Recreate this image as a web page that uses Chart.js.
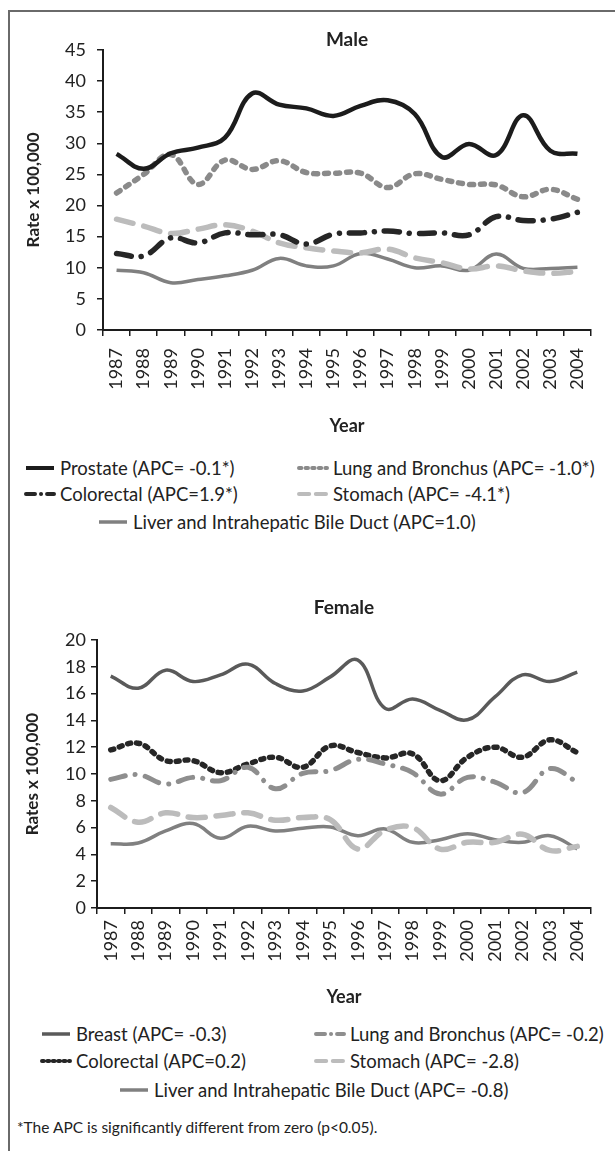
<!DOCTYPE html>
<html>
<head>
<meta charset="utf-8">
<script src="https://cdn.jsdelivr.net/npm/chart.js@4.4.1/dist/chart.umd.min.js"></script>
<style>
  body { margin: 0; background: #fff; font-family: Lato, sans-serif; color: #222; }
  #page { position: relative; width: 615px; height: 1151px; overflow: hidden; }
  #frame { position: absolute; left: 8px; top: 10px; width: 700px; height: 1300px;
           border-left: 2px solid #6a6a6a; border-top: 2px solid #6a6a6a; }
  canvas { position: absolute; left: 0; }
  .leg { position: absolute; font-size: 18.5px; line-height: 22px; white-space: nowrap; }
  .leg svg { position: absolute; left: 0; top: 8px; }
  #note { position: absolute; left: 17px; top: 1117px; font-size: 15.5px; line-height: 20px; }
</style>
</head>
<body>
<div id="page">
  <div id="frame"></div>
  <canvas id="male" width="615" height="437" style="top:0"></canvas>
  <canvas id="female" width="615" height="448" style="top:560px"></canvas>
  <div id="legends"></div>
  <div id="note">*The APC is significantly different from zero (p&lt;0.05).</div>
</div>
<script>
// Years on the x axis
const years = ["1987", "1988", "1989", "1990", "1991", "1992", "1993", "1994", "1995",
  "1996", "1997", "1998", "1999", "2000", "2001", "2002", "2003", "2004"];

// Male rates x 100,000
const maleProstate = [28.3, 25.9, 28.4, 29.3, 30.9, 38.0, 36.2, 35.6, 34.4, 36.0, 36.9, 34.7, 27.8, 29.9, 28.1, 34.5, 28.8, 28.3];
const maleLung = [22.0, 25.0, 28.2, 23.4, 27.3, 25.8, 27.2, 25.3, 25.2, 25.2, 22.9, 25.1, 24.2, 23.4, 23.3, 21.4, 22.6, 21.0];
const maleColorectal = [12.3, 11.9, 14.8, 14.0, 15.6, 15.3, 15.3, 13.8, 15.4, 15.6, 15.9, 15.5, 15.6, 15.3, 18.2, 17.6, 17.8, 18.9];
const maleStomach = [17.8, 16.7, 15.5, 16.2, 16.9, 15.9, 14.0, 13.2, 12.7, 12.4, 13.0, 11.6, 10.8, 9.8, 10.3, 9.5, 9.1, 9.4];
const maleLiver = [9.6, 9.2, 7.6, 8.1, 8.7, 9.6, 11.5, 10.3, 10.3, 12.3, 11.4, 10.0, 10.3, 9.6, 12.2, 9.9, 9.9, 10.1];

// Female rates x 100,000
const femaleBreast = [17.3, 16.4, 17.75, 16.9, 17.4, 18.2, 16.75, 16.2, 17.25, 18.5, 14.9, 15.6, 14.75, 14.05, 15.75, 17.4, 16.9, 17.6];
const femaleLung = [9.6, 9.95, 9.25, 9.75, 9.5, 10.5, 8.9, 10.05, 10.25, 11.1, 10.75, 10.1, 8.5, 9.75, 9.4, 8.6, 10.4, 9.4];
const femaleColorectal = [11.8, 12.3, 11.0, 11.0, 10.1, 10.75, 11.25, 10.5, 12.1, 11.6, 11.2, 11.5, 9.5, 11.25, 12.0, 11.25, 12.55, 11.6];
const femaleStomach = [7.5, 6.4, 7.1, 6.75, 6.9, 7.1, 6.55, 6.75, 6.6, 4.4, 5.8, 6.0, 4.4, 4.9, 4.9, 5.5, 4.3, 4.6];
const femaleLiver = [4.8, 4.85, 5.75, 6.3, 5.2, 6.1, 5.75, 5.95, 6.05, 5.4, 5.9, 4.9, 5.1, 5.55, 5.1, 4.9, 5.4, 4.4];

// Legend labels
const maleLabels = ["Prostate (APC= -0.1*)", "Lung and Bronchus (APC= -1.0*)", "Colorectal (APC=1.9*)",
  "Stomach (APC= -4.1*)", "Liver and Intrahepatic Bile Duct (APC=1.0)"];
const femaleLabels = ["Breast (APC= -0.3)", "Lung and Bronchus (APC= -0.2)", "Colorectal (APC=0.2)",
  "Stomach (APC= -2.8)", "Liver and Intrahepatic Bile Duct (APC= -0.8)"];

// line styles: color, width, dash
const styles = {
  black: { color: "#1c1c1c", width: 4.5, dash: [] },
  dots: { color: "#8a8a8a", width: 5.5, dash: [4, 7] },
  dashDot: { color: "#262626", width: 5.5, dash: [15, 10, 0.1, 10] },
  longDash: { color: "#bcbcbc", width: 5.5, dash: [17, 11] },
  liver: { color: "#808080", width: 3.5, dash: [] },
  breast: { color: "#5a5a5a", width: 3.5, dash: [] },
  grayDashDot: { color: "#8e8e8e", width: 5, dash: [15, 10, 0.1, 10] },
  blackDots: { color: "#262626", width: 5.5, dash: [3, 6] }
};

function ds(label, data, st) {
  return {
    label: label, data: data, borderColor: st.color, borderWidth: st.width,
    borderDash: st.dash, borderCapStyle: st.dash.length ? "round" : "butt",
    borderJoinStyle: "round", tension: 0.4, pointRadius: 0, fill: false
  };
}

const font = { family: "Lato", size: 18 };
const axisTitle = { family: "Lato", size: 17, weight: "bold" };
const yearTitle = { family: "Lato", size: 18, weight: "bold" };
const chartTitle = { family: "Lato", size: 19, weight: "bold", lineHeight: 1.1 };

function makeChart(id, title, titlePad, yTitle, yMax, yStep, datasets, g) {
  return new Chart(document.getElementById(id), {
    type: "line",
    data: { labels: years, datasets: datasets },
    options: {
      responsive: false,
      animation: false,
      devicePixelRatio: 1,
      layout: { padding: { left: 0, right: g.right, top: 0, bottom: 0 } },
      plugins: {
        legend: { display: false },
        tooltip: { enabled: false },
        title: { display: true, text: title, font: chartTitle, color: "#222", fullSize: false,
                 padding: titlePad }
      },
      scales: {
        x: {
          offset: true,
          grid: { offset: true, drawOnChartArea: false, drawTicks: true, tickLength: 6,
                  color: "#1c1c1c", lineWidth: 1.5 },
          border: { color: "#1c1c1c", width: 2 },
          ticks: { font: font, color: "#222", minRotation: 90, maxRotation: 90,
                   autoSkip: false, padding: g.xPad },
          title: { display: true, text: "Year", font: yearTitle, color: "#222",
                   padding: { top: 0, bottom: 0 } },
          afterFit: (s) => { s.height = g.xHeight; }
        },
        y: {
          min: 0, max: yMax,
          grid: { drawOnChartArea: false, drawTicks: true, tickLength: 6,
                  color: "#1c1c1c", lineWidth: 1.5 },
          border: { color: "#1c1c1c", width: 2 },
          ticks: { font: font, color: "#222", stepSize: yStep, padding: g.yPad },
          title: { display: true, text: yTitle, font: axisTitle, color: "#222",
                   padding: { top: g.yTitlePad, bottom: 0 } },
          afterFit: (s) => { s.width = g.yWidth; }
        }
      }
    }
  });
}

makeChart("male", "Male", { top: 29, bottom: 0 }, "Rate x 100,000", 45, 5, [
  ds(maleLabels[0], maleProstate, styles.black),
  ds(maleLabels[1], maleLung, styles.dots),
  ds(maleLabels[2], maleColorectal, styles.dashDot),
  ds(maleLabels[3], maleStomach, styles.longDash),
  ds(maleLabels[4], maleLiver, styles.liver)
], { right: 24, xHeight: 107, xPad: 12, yPad: 11, yWidth: 103, yTitlePad: 23.8 });

makeChart("female", "Female", { top: 37.5, bottom: 21.6 }, "Rates x 100,000", 20, 2, [
  ds(femaleLabels[0], femaleBreast, styles.breast),
  ds(femaleLabels[1], femaleLung, styles.grayDashDot),
  ds(femaleLabels[2], femaleColorectal, styles.blackDots),
  ds(femaleLabels[3], femaleStomach, styles.longDash),
  ds(femaleLabels[4], femaleLiver, styles.liver)
], { right: 24, xHeight: 100, xPad: 6, yPad: 5, yWidth: 97, yTitlePad: 22.3 });

// HTML legends below each chart
function legendItem(x, y, text, st) {
  const d = document.createElement("div");
  d.className = "leg";
  d.style.left = x + "px";
  d.style.top = (y - 11) + "px";
  d.style.paddingLeft = "36px";
  const cap = st.dash.length ? "round" : "butt";
  d.innerHTML = '<svg width="32" height="6"><line x1="2" y1="3" x2="30" y2="3" stroke="' + st.color +
    '" stroke-width="' + Math.min(st.width, 4) + '" stroke-linecap="' + cap + '" stroke-dasharray="' +
    st.dash.map((v) => v * 0.6).join(",") + '"/></svg>' + text;
  document.getElementById("legends").appendChild(d);
}

legendItem(24, 468, maleLabels[0], styles.black);
legendItem(297, 468, maleLabels[1], styles.dots);
legendItem(24, 494, maleLabels[2], styles.dashDot);
legendItem(297, 494, maleLabels[3], styles.longDash);
legendItem(97, 522, maleLabels[4], styles.liver);

legendItem(40, 1034, femaleLabels[0], styles.breast);
legendItem(314, 1034, femaleLabels[1], styles.grayDashDot);
legendItem(40, 1061, femaleLabels[2], styles.blackDots);
legendItem(314, 1061, femaleLabels[3], styles.longDash);
legendItem(118, 1090, femaleLabels[4], styles.liver);
</script>
</body>
</html>
